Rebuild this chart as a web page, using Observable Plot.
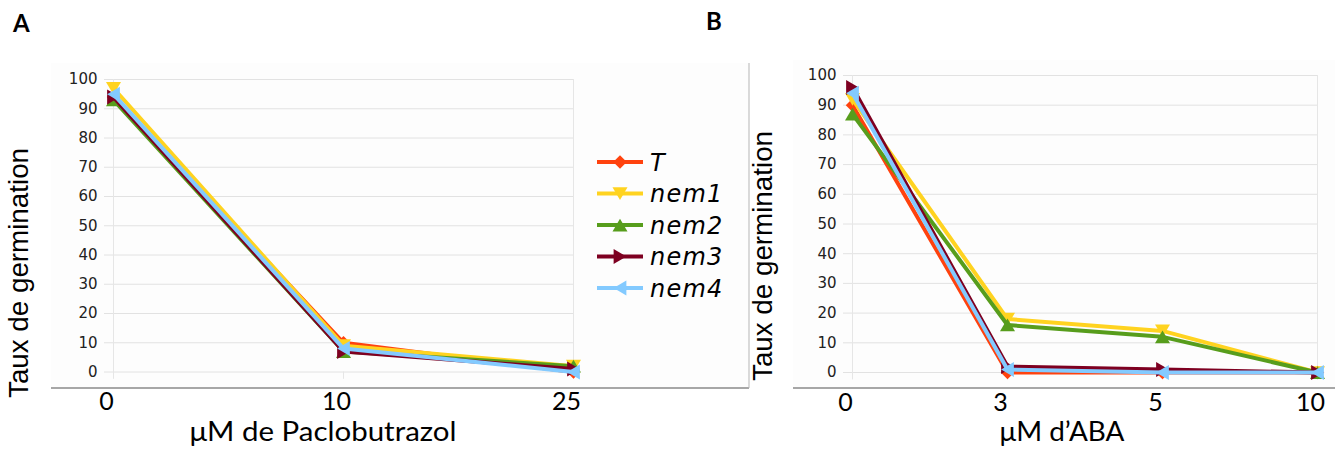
<!DOCTYPE html>
<html><head><meta charset="utf-8">
<script src="https://cdn.jsdelivr.net/npm/d3@7"></script>
<script src="https://cdn.jsdelivr.net/npm/@observablehq/plot@0.6"></script>
<style>
body{margin:0;background:#fff;}
#root{position:relative;width:1335px;height:450px;overflow:hidden;background:#fff;}
#root > svg{position:absolute;top:0;}
.bg{position:absolute;background:#fdfdfd;}
</style></head><body><div id="root"></div>
<script>
// ---- data ----
const seriesNames = ["T", "nem1", "nem2", "nem3", "nem4"];
const seriesColors = ["#ff420e", "#ffd320", "#579d1c", "#7e0021", "#83caff"];
const yTicks = [0, 10, 20, 30, 40, 50, 60, 70, 80, 90, 100];

const paclobutrazolDoses = ["0", "10", "25"];
const pacloT    = [94, 10, 0];
const pacloNem1 = [97, 9, 2];
const pacloNem2 = [93, 7, 2];
const pacloNem3 = [94, 7, 1];
const pacloNem4 = [95, 8, 0];

const abaDoses = ["0", "3", "5", "10"];
const abaT    = [90, 0, 0, 0];
const abaNem1 = [92, 18, 14, 0];
const abaNem2 = [87, 16, 12, 0];
const abaNem3 = [96, 2, 1, 0];
const abaNem4 = [94, 1, 0, 0];

const yLabel = "Taux de germination";
const xLabelA = "μM de Paclobutrazol";
const xLabelB = "μM d’ABA";

// ---- symbols ----
function tri(dir) {
  return {draw(ctx, size) {
    const r = Math.sqrt(size / Math.PI), h = r * 0.85;
    if (dir === "down") { ctx.moveTo(-r, -h); ctx.lineTo(r, -h); ctx.lineTo(0, h); }
    if (dir === "up") { ctx.moveTo(-r, h); ctx.lineTo(r, h); ctx.lineTo(0, -h); }
    if (dir === "right") { ctx.moveTo(-h, -r); ctx.lineTo(-h, r); ctx.lineTo(h, 0); }
    if (dir === "left") { ctx.moveTo(h, -r); ctx.lineTo(h, r); ctx.lineTo(-h, 0); }
    ctx.closePath();
  }};
}
const diamond = {draw(ctx, size) {
  const r = Math.sqrt(size / Math.PI) * 0.9;
  ctx.moveTo(0, -r); ctx.lineTo(r, 0); ctx.lineTo(0, r); ctx.lineTo(-r, 0); ctx.closePath();
}};
const seriesSymbols = [diamond, tri("down"), tri("up"), tri("right"), tri("left")];

const root = d3.select("#root");
// faint chart-area backgrounds
root.append("div").attr("class", "bg").style("left", "51px").style("top", "63px").style("width", "698px").style("height", "325px");
root.append("div").attr("class", "bg").style("left", "793px").style("top", "60px").style("width", "542px").style("height", "328px");

function panel({doses, values, left, width, marginLeft, marginRight, marginTop, marginBottom, xRange}) {
  const first = doses[0], last = doses[doses.length - 1];
  const marks = [
    Plot.gridY(yTicks, {stroke: "#e2e2e2", strokeOpacity: 1}),
    Plot.ruleX(doses, {x: d => d, y1: -2.5, y2: d => (d === first || d === last) ? 100 : 0, stroke: "#e6e6e6"}),
    Plot.axisY(yTicks, {label: null, tickSize: 0, tickPadding: 7, fontSize: 15, fontFamily: "DejaVu Sans", fill: "#222"}),
    Plot.axisX(doses, {label: null, tickSize: 0, tickPadding: 20.5, fontSize: 25, fontFamily: "Lato", fill: "#000", dx: -7})
  ];
  seriesNames.forEach((s, i) => {
    const rows = doses.map((d, j) => ({series: s, dose: d, value: values[i][j]}));
    marks.push(Plot.line(rows, {x: "dose", y: "value", stroke: seriesColors[i], strokeWidth: 4, strokeLinejoin: "round"}));
    marks.push(Plot.dot(rows, {x: "dose", y: "value", fill: seriesColors[i], stroke: "none", symbol: seriesSymbols[i], r: 7.5}));
  });
  const svg = Plot.plot({
    width, height: 450, marginLeft, marginRight, marginTop, marginBottom,
    style: {background: "transparent", overflow: "visible"},
    x: {type: "point", domain: doses, range: xRange, padding: 0},
    y: {domain: [0, 100]},
    marks
  });
  svg.style.left = left + "px";
  root.node().appendChild(svg);
}

panel({doses: paclobutrazolDoses, values: [pacloT, pacloNem1, pacloNem2, pacloNem3, pacloNem4],
  left: 0, width: 760, marginLeft: 104, marginRight: 187, marginTop: 79, marginBottom: 78.5, xRange: [113, 573]});
panel({doses: abaDoses, values: [abaT, abaNem1, abaNem2, abaNem3, abaNem4],
  left: 750, width: 585, marginLeft: 93, marginRight: 18, marginTop: 75, marginBottom: 78, xRange: [102, 567]});

// ---- overlay: frame lines, titles, legend ----
const ov = root.append("svg").attr("width", 1335).attr("height", 450).style("left", "0px").style("pointer-events", "none");
ov.append("line").attr("x1", 51).attr("x2", 749).attr("y1", 388).attr("y2", 388).attr("stroke", "#8a8a8a").attr("stroke-width", 1.5);
ov.append("line").attr("x1", 793).attr("x2", 1335).attr("y1", 388).attr("y2", 388).attr("stroke", "#8a8a8a").attr("stroke-width", 1.5);
ov.append("line").attr("x1", 749).attr("x2", 749).attr("y1", 63).attr("y2", 388).attr("stroke", "#b5b5b5").attr("stroke-width", 1);

ov.append("text").attr("x", 13).attr("y", 32).attr("font-family", "Lato").attr("font-weight", "bold").attr("font-size", 24).text("A");
ov.append("text").attr("x", 706).attr("y", 30).attr("font-family", "Lato").attr("font-weight", "bold").attr("font-size", 24).text("B");

[[28, 273], [772, 256]].forEach(([x, y]) => {
  ov.append("text").attr("transform", `translate(${x},${y}) rotate(-90)`).attr("text-anchor", "middle")
    .attr("font-family", "Liberation Sans").attr("font-size", 27).attr("textLength", 250).attr("lengthAdjust", "spacingAndGlyphs").text(yLabel);
});
ov.append("text").attr("x", 323).attr("y", 441).attr("text-anchor", "middle").attr("font-family", "Lato").attr("font-size", 27)
  .attr("textLength", 267).attr("lengthAdjust", "spacingAndGlyphs").text(xLabelA);
ov.append("text").attr("x", 1062).attr("y", 441).attr("text-anchor", "middle").attr("font-family", "Lato").attr("font-size", 27)
  .attr("textLength", 125).attr("lengthAdjust", "spacingAndGlyphs").text(xLabelB);

const lg = ov.append("g");
seriesNames.forEach((s, i) => {
  const y = 162 + i * 31.5;
  lg.append("line").attr("x1", 597).attr("x2", 643).attr("y1", y).attr("y2", y).attr("stroke", seriesColors[i]).attr("stroke-width", 4);
  const p = d3.path(); seriesSymbols[i].draw(p, 7.5 * 7.5 * Math.PI);
  lg.append("path").attr("transform", `translate(620,${y})`).attr("d", p.toString()).attr("fill", seriesColors[i]);
  lg.append("text").attr("x", 650).attr("y", y + 8.5).attr("font-family", "DejaVu Sans").attr("font-style", "italic")
    .attr("font-size", 24).attr("letter-spacing", 1.2).text(s);
});
</script></body></html>
